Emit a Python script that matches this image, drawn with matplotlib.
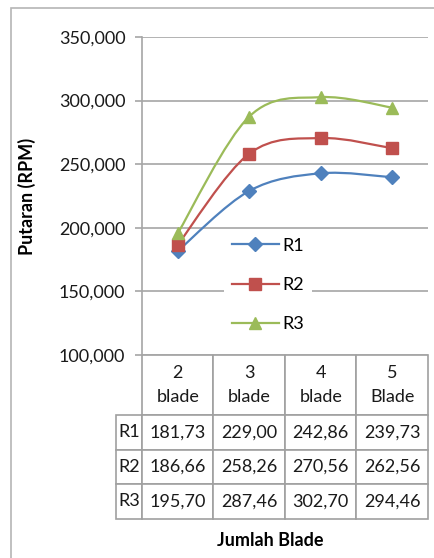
import matplotlib
matplotlib.use("Agg")
import matplotlib.pyplot as plt
from matplotlib.path import Path
from matplotlib.patches import PathPatch, Rectangle
from matplotlib.lines import Line2D
from matplotlib.ticker import FuncFormatter, MultipleLocator

plt.rcParams['font.family'] = ['Lato', 'DejaVu Sans']

# data
kategori = ["2\nblade", "3\nblade", "4\nblade", "5\nBlade"]
seri = ["R1", "R2", "R3"]
r1 = [181.73, 229.00, 242.86, 239.73]
r2 = [186.66, 258.26, 270.56, 262.56]
r3 = [195.70, 287.46, 302.70, 294.46]
teks_tabel = [
    ["181,73", "229,00", "242,86", "239,73"],
    ["186,66", "258,26", "270,56", "262,56"],
    ["195,70", "287,46", "302,70", "294,46"],
]

warna = ["#4F81BD", "#C0504D", "#9BBB59"]
penanda = ["D", "s", "^"]
ukuran = [7.5, 9, 8]
FS = 13

W, H = 435, 558
fig = plt.figure(figsize=(W / 100, H / 100), dpi=100)

# bingkai luar
fig.patches.append(Rectangle((11 / W, -0.1), 1.2, 1 - 8 / H + 0.1,
                             transform=fig.transFigure, fill=False,
                             edgecolor="#b5b5b5", lw=1.2))

ax_l, ax_r, ax_t, ax_b = 142, 428, 37, 355
aw, ah = ax_r - ax_l, ax_b - ax_t
ax = fig.add_axes([ax_l / W, 1 - ax_b / H, aw / W, ah / H])


def kurva_halus(ys):
    # catmull-rom -> bezier, mirip smoothing excel
    pts = list(zip(range(len(ys)), ys))
    verts = [pts[0]]
    codes = [Path.MOVETO]
    n = len(pts)
    for i in range(n - 1):
        p0 = pts[max(i - 1, 0)]
        p1 = pts[i]
        p2 = pts[i + 1]
        p3 = pts[min(i + 2, n - 1)]
        c1 = (p1[0] + (p2[0] - p0[0]) / 6, p1[1] + (p2[1] - p0[1]) / 6)
        c2 = (p2[0] - (p3[0] - p1[0]) / 6, p2[1] - (p3[1] - p1[1]) / 6)
        verts += [c1, c2, p2]
        codes += [Path.CURVE4] * 3
    return Path(verts, codes)


handles = []
for ys, c, m, ms, lab in zip([r1, r2, r3], warna, penanda, ukuran, seri):
    ax.add_patch(PathPatch(kurva_halus(ys), fill=False, edgecolor=c, lw=1.6, zorder=3))
    ax.plot(range(len(ys)), ys, linestyle="none", marker=m, color=c,
            markersize=ms, zorder=4)
    handles.append(Line2D([], [], color=c, lw=1.6, marker=m, markersize=ms, label=lab))

ax.set_xlim(-0.5, 3.5)
ax.set_ylim(100, 350)
ax.yaxis.set_major_locator(MultipleLocator(50))
ax.yaxis.set_major_formatter(FuncFormatter(lambda v, p: f"{v:.3f}".replace(".", ",")))
ax.set_xticks([])
ax.grid(axis="y", color="#a6a6a6", lw=1.2)
ax.set_axisbelow(True)
for s in ["top", "right", "bottom"]:
    ax.spines[s].set_visible(False)
ax.spines["left"].set_color("#a6a6a6")
ax.spines["left"].set_linewidth(1.2)
ax.tick_params(axis="y", length=5, width=1.2, color="#a6a6a6", labelsize=FS,
               labelcolor="#1a1a1a", pad=7)

ax.set_ylabel("Putaran (RPM)", fontsize=FS, fontweight="bold")
ax.yaxis.set_label_coords((36 - ax_l) / aw, 0.5)

leg = ax.legend(handles=handles, loc="center",
                bbox_to_anchor=((268 - ax_l) / aw, (ax_b - 285) / ah),
                frameon=True, facecolor="white", edgecolor="none", framealpha=1,
                fontsize=FS, labelspacing=1.3, handlelength=2.6, handletextpad=0.2,
                borderpad=0.45, fancybox=False)

# tabel data, ukuran sel dalam satuan axes
tbl_l = 108
tabel = ax.table(cellText=teks_tabel, rowLabels=seri, colLabels=kategori,
                 cellLoc="center", rowLoc="center", colLoc="center", loc="bottom")
tabel.auto_set_font_size(False)
tabel.set_fontsize(FS)
for (r, c), cell in tabel.get_celld().items():
    cell.set_width((ax_l - tbl_l) / aw if c == -1 else 0.25)
    cell.set_height((60 if r == 0 else 34.5) / ah)
    cell.set_edgecolor("#a0a0a0")
    cell.set_linewidth(1.2)
    cell.get_text().set_color("#1a1a1a")
    cell.get_text().set_linespacing(1.55)

fig.text(270 / W, 1 - 541 / H, "Jumlah Blade", ha="center", va="center",
         fontsize=FS, fontweight="bold")

fig.savefig("out.png", dpi=100)
